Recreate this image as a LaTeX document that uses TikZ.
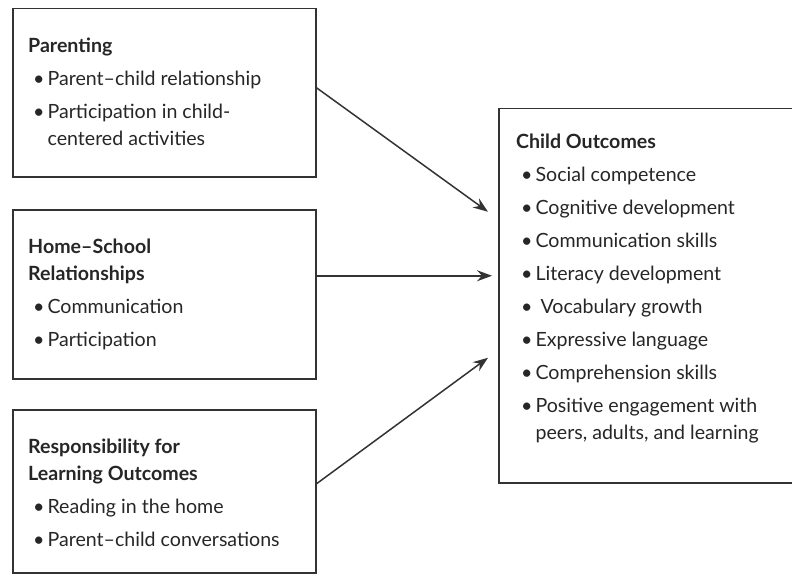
\documentclass[tikz,border=0pt]{standalone}
\usepackage{fontspec}
\setmainfont{Lato}
\usetikzlibrary{arrows.meta,positioning}

\tikzset{
    box/.style={
        draw=black!80,
        line width=1.5pt,
        rectangle,
        anchor=north west,
        inner sep=0pt
        },
    boxtext/.style={
        anchor=north west,
        align=left,
        inner sep=0pt,
        text=black!85,
        font=\fontsize{19.6}{27}\selectfont
        },
    flow/.style={
        draw=black!80,
        line width=1.5pt,
        -{Stealth[length=15pt,width=11pt,inset=5pt]}
        }
}
\newcommand{\itm}{\hspace*{5pt}\textbullet\hspace{3pt}}
\newcommand{\cont}{\hspace*{5pt}\hphantom{\textbullet}\hspace{3pt}}

\begin{document}
\begin{tikzpicture}[x=1pt,y=-1pt]

\useasboundingbox (0,0) rectangle (792,575);
\clip (0,0) rectangle (792,575);

%boxes on the left
\node[box, minimum width=303pt, minimum height=168pt] (parenting) at (12,8) {};
\node[box, minimum width=303pt, minimum height=169pt] (homeschool) at (12,209) {};
\node[box, minimum width=303pt, minimum height=163pt] (responsibility) at (12,409) {};

%outcome box, runs off the right edge
\node[box, minimum width=310pt, minimum height=374pt] (outcomes) at (498,108) {};

%box contents
\node[boxtext] (parenting-text) at (28,38)
    {\textbf{Parenting}\\[6pt]
     \itm Parent--child relationship\\[6pt]
     \itm Participation in child-\\
     \cont centered activities};

\node[boxtext] (homeschool-text) at (28,239)
    {\textbf{Home--School}\\
     \textbf{Relationships}\\[6pt]
     \itm Communication\\[6pt]
     \itm Participation};

\node[boxtext] (responsibility-text) at (28,439)
    {\textbf{Responsibility for}\\
     \textbf{Learning Outcomes}\\[6pt]
     \itm Reading in the home\\[6pt]
     \itm Parent--child conversations};

\node[boxtext] (outcomes-text) at (516,134)
    {\textbf{Child Outcomes}\\[6pt]
     \itm Social competence\\[6pt]
     \itm Cognitive development\\[6pt]
     \itm Communication skills\\[6pt]
     \itm Literacy development\\[6pt]
     \itm\ Vocabulary growth\\[6pt]
     \itm Expressive language\\[6pt]
     \itm Comprehension skills\\[6pt]
     \itm Positive engagement with\\
     \cont peers, adults, and learning};

%arrows
\draw[flow] ([yshift=5pt]parenting.east) -- ([xshift=-10pt,yshift=84pt]outcomes.west);
\draw[flow] ([yshift=18.5pt]homeschool.east) -- ([xshift=-6pt,yshift=20pt]outcomes.west);
\draw[flow] ([yshift=7.5pt]responsibility.east) -- ([xshift=-10pt,yshift=-62pt]outcomes.west);

\end{tikzpicture}
\end{document}
